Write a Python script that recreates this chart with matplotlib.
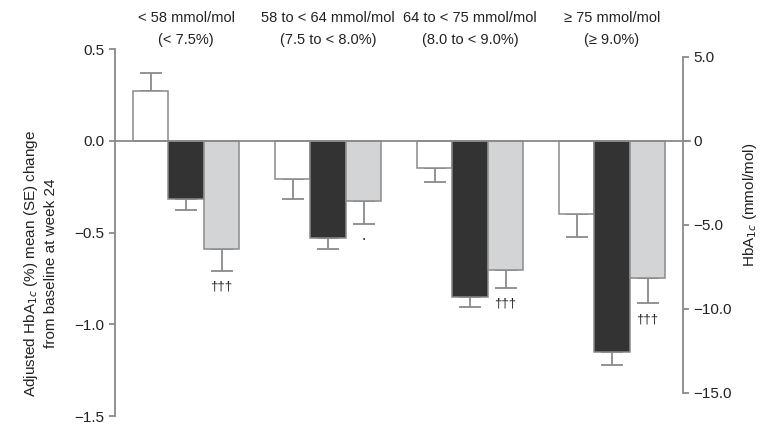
import matplotlib
matplotlib.use("Agg")
import matplotlib.pyplot as plt
import matplotlib.transforms as mtransforms
import numpy as np

plt.rcParams["font.family"] = ["Liberation Sans", "DejaVu Sans"]

# HbA1c baseline categories
groups = [
    "< 58 mmol/mol\n(< 7.5%)",
    "58 to < 64 mmol/mol\n(7.5 to < 8.0%)",
    "64 to < 75 mmol/mol\n(8.0 to < 9.0%)",
    "\u2265 75 mmol/mol\n(\u2265 9.0%)",
]

# adjusted mean change (%) and SE per treatment arm
white_mean = [0.27, -0.207, -0.147, -0.40]
white_se = [0.10, 0.108, 0.075, 0.125]
black_mean = [-0.315, -0.527, -0.853, -1.152]
black_se = [0.06, 0.06, 0.05, 0.07]
gray_mean = [-0.587, -0.326, -0.706, -0.745]
gray_se = [0.12, 0.125, 0.095, 0.14]

# significance marks on the gray arm
gray_marks = ["\u2020\u2020\u2020", "\u2022", "\u2020\u2020\u2020", "\u2020\u2020\u2020"]

left_ticks = [0.5, 0.0, -0.5, -1.0, -1.5]
left_ticklabels = ["0.5", "0.0", "\u22120.5", "\u22121.0", "\u22121.5"]
right_ticks = [5.0, 0.0, -5.0, -10.0, -15.0]
right_ticklabels = ["5.0", "0", "\u22125.0", "\u221210.0", "\u221215.0"]

PCT_TO_MMOL = 10.93
axis_col = "#8a8a8a"

fig = plt.figure(figsize=(7.66, 4.24), dpi=100)
ax = fig.add_axes([115 / 766, 0.010, 568 / 766, 0.883])

x = np.arange(len(groups))
w = 0.25


def one_sided(mean, se):
    mean = np.asarray(mean)
    se = np.asarray(se)
    lower = np.where(mean < 0, se, 0)
    upper = np.where(mean >= 0, se, 0)
    return [lower, upper]


series = [
    (white_mean, white_se, "white", -w),
    (black_mean, black_se, "#333333", 0.0),
    (gray_mean, gray_se, "#d3d4d6", w),
]
for mean, se, col, off in series:
    ax.bar(x + off, mean, width=w, color=col, edgecolor=axis_col,
           linewidth=1.1, zorder=3)
    ax.errorbar(x + off, mean, yerr=one_sided(mean, se), fmt="none",
                ecolor=axis_col, elinewidth=1.3, capsize=8, capthick=1.3,
                zorder=2)

# marks under the gray bars' error caps
for i, mark in enumerate(gray_marks):
    y_end = gray_mean[i] - gray_se[i]
    fs = 9.5 if mark.startswith("\u2020") else 5
    ax.annotate(mark, (x[i] + w, y_end), xytext=(0, -11.5),
                textcoords="offset points", ha="center", va="center",
                fontsize=fs, color="#222222")

ax.axhline(0, xmax=1.012, color=axis_col, linewidth=1.3, zorder=4,
           clip_on=False)

ax.set_xlim(-0.5, 3.5)
ax.set_ylim(-1.52, 0.52)
ax.set_xticks([])
for s in ["top", "bottom", "right"]:
    ax.spines[s].set_visible(False)
ax.spines["left"].set_color(axis_col)
ax.spines["left"].set_linewidth(1.3)
ax.spines["left"].set_bounds(-1.5, 0.5)
ax.set_yticks(left_ticks)
ax.set_yticklabels(left_ticklabels)
ax.tick_params(axis="y", colors=axis_col, labelcolor="#222222",
               labelsize=11, length=4, width=1.3)

ax2 = ax.twinx()
lo, hi = ax.get_ylim()
ax2.set_ylim(lo * PCT_TO_MMOL, hi * PCT_TO_MMOL)
for s in ["top", "bottom", "left"]:
    ax2.spines[s].set_visible(False)
ax2.spines["right"].set_color(axis_col)
ax2.spines["right"].set_linewidth(1.3)
ax2.spines["right"].set_bounds(-15, 5)
ax2.set_yticks(right_ticks)
ax2.set_yticklabels(right_ticklabels)
ax2.tick_params(axis="y", colors=axis_col, labelcolor="#222222",
                labelsize=11, length=4, width=1.3)

# group headings above the plot
trans = mtransforms.blended_transform_factory(ax.transData, fig.transFigure)
for i, g in enumerate(groups):
    ax.text(x[i], 1 - 29 / 424, g, transform=trans, ha="center",
            va="center", fontsize=10.5, linespacing=1.65, color="#222222")

fig.text(40 / 766, 1 - 263 / 424,
         "Adjusted HbA$_{1c}$ (%) mean (SE) change\nfrom baseline at week 24",
         rotation=90, ha="center", va="center", fontsize=11,
         linespacing=1.35, multialignment="center", color="#222222")
fig.text(750 / 766, 1 - 205 / 424, "HbA$_{1c}$ (mmol/mol)", rotation=90,
         ha="center", va="center", fontsize=11, color="#222222")

fig.savefig("out.png", dpi=100)
